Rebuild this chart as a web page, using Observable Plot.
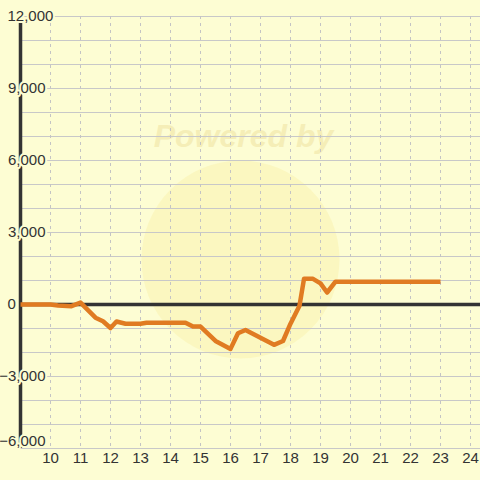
<!DOCTYPE html>
<html>
<head>
<meta charset="utf-8">
<script src="https://cdn.jsdelivr.net/npm/d3@7"></script>
<script src="https://cdn.jsdelivr.net/npm/@observablehq/plot@0.6"></script>
<style>
  html, body { margin: 0; padding: 0; background: #fdfdd3; }
  #chart svg { display: block; }
</style>
</head>
<body>
<div id="chart"></div>
<script>
// Series (hour of day vs. value)
const hours  = [9, 10, 10.25, 10.7, 11, 11.5, 11.75, 12, 12.2, 12.5, 13, 13.2, 14.5, 14.75, 15, 15.5, 16, 16.25, 16.5, 17.45, 17.75, 18, 18.3, 18.45, 18.75, 19, 19.22, 19.5, 23];
const values = [0, 0, -40, -70, 80, -550, -700, -980, -710, -800, -800, -760, -760, -920, -920, -1520, -1850, -1200, -1060, -1680, -1520, -800, -50, 1070, 1070, 880, 500, 950, 950];

// Tick labels / grid
const xTicks = [10, 11, 12, 13, 14, 15, 16, 17, 18, 19, 20, 21, 22, 23, 24];
const yTicksRight = [9000, 6000, 3000, -3000];
const yTickBottom = [-6000];
const yTicksLeft = [12000, 0];
const yGrid = [-6000, -5000, -4000, -3000, -2000, -1000, 0, 1000, 2000, 3000, 4000, 5000, 6000, 7000, 8000, 9000, 10000, 11000, 12000];

const data = hours.map((h, i) => ({h, v: values[i]}));
const bg = "#fdfdd3";
const fmt = d3.format(",");
const font = "'Liberation Sans', Arial, sans-serif";
const fs = 15;

const chart = Plot.plot({
  width: 480,
  height: 480,
  marginLeft: 20,
  marginRight: 0,
  marginTop: 16,
  marginBottom: 32,
  style: {background: bg, fontFamily: font, fontSize: fs + "px"},
  x: {domain: [9, 24.3333], axis: null},
  y: {domain: [-6000, 12000], axis: null},
  marks: [
    // faint watermark
    Plot.dot([0], {frameAnchor: "middle", dx: -10, dy: 27, r: 99, fill: "#f8e98e", fillOpacity: 0.28, stroke: "none"}),
    Plot.text(["Powered by"], {frameAnchor: "top", dx: -7, dy: 108, fill: "#f3e9ae", fontSize: 32, fontWeight: 900, fontStyle: "italic", fillOpacity: 0.75}),
    // grid
    Plot.ruleY(yGrid, {stroke: "#c8c8c8", strokeWidth: 1.2}),
    Plot.ruleX(xTicks, {stroke: "#c4c4c4", strokeWidth: 1, strokeDasharray: "3,4"}),
    // axes lines
    Plot.ruleY([0], {stroke: "#333", strokeWidth: 3.5}),
    Plot.ruleX([9], {stroke: "#333", strokeWidth: 3.5}),
    // series
    Plot.line(data, {x: "h", y: "v", stroke: "#e07b22", strokeWidth: 4.5, strokeLinejoin: "round", strokeLinecap: "butt"}),
    // y labels
    Plot.text(yTicksRight, {y: d => d, frameAnchor: "left", textAnchor: "end", dx: 25, text: d => fmt(d), fill: "#333", stroke: bg, strokeWidth: 4, fontSize: fs}),
    Plot.text(yTickBottom, {y: d => d, frameAnchor: "left", textAnchor: "end", dx: 25, dy: -7, text: d => fmt(d), fill: "#333", stroke: bg, strokeWidth: 4, fontSize: fs}),
    Plot.text(yTicksLeft, {y: d => d, frameAnchor: "left", textAnchor: "start", dx: -13, text: d => fmt(d), fill: "#333", stroke: bg, strokeWidth: 4, fontSize: fs}),
    // x labels
    Plot.text(xTicks, {x: d => d, frameAnchor: "bottom", dy: 14, text: d => String(d), fill: "#333", fontSize: fs})
  ]
});
document.getElementById("chart").appendChild(chart);
</script>
</body>
</html>
